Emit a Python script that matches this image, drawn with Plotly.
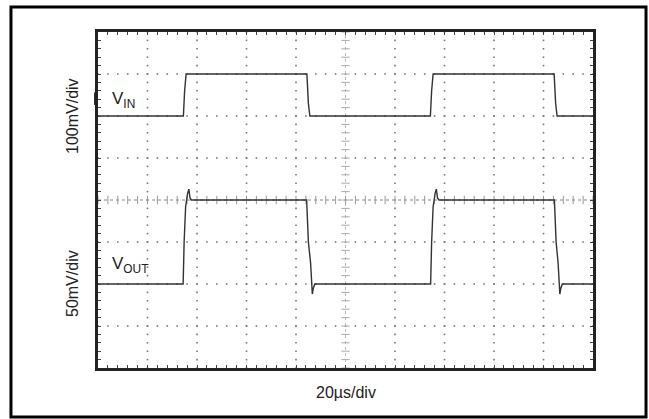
import numpy as np
import plotly.graph_objects as go

# Scope settings
TIME_PER_DIV = 20.0      # µs/div
VIN_PER_DIV = 100.0      # mV/div
VOUT_PER_DIV = 50.0      # mV/div
N_XDIV, N_YDIV = 10, 8
VIN_OFFSET_DIV = 6.0     # channel ground positions (divisions from bottom)
VOUT_OFFSET_DIV = 2.0

# Input step (time in µs, amplitude in mV)
vin_t = [0, 34.5, 35.0, 35.6, 84.4, 85.0, 85.6, 134.3, 134.8, 135.4, 184.3, 184.9, 185.5, 200]
vin_mv = [0, 0, 60, 100, 100, 30, 0, 0, 60, 100, 100, 30, 0, 0]

# Output response (time in µs, amplitude in mV)
vout_t = [0, 34.4, 34.8, 35.4, 36.2, 36.7, 37.2, 37.8, 60, 84.3, 85.0, 85.9, 86.6, 87.0, 87.6, 110,
          134.4, 134.8, 135.4, 136.2, 136.7, 137.2, 137.8, 160, 184.4, 185.1, 185.9, 186.6, 187.0, 187.6, 200]
vout_mv = [0, 0, 50, 92, 108, 113, 102, 100, 100, 100, 50, 25, -12, -5, 0, 0,
           0, 50, 92, 108, 113, 102, 100, 100, 100, 50, 25, -12, -5, 0, 0]

x_max = N_XDIV * TIME_PER_DIV
vin_y = [VIN_OFFSET_DIV + v / VIN_PER_DIV for v in vin_mv]
vout_y = [VOUT_OFFSET_DIV + v / VOUT_PER_DIV for v in vout_mv]

fig = go.Figure()

# Dotted graticule: one dot every 1/5 division along each major line
gx, gy = [], []
for i in range(1, N_XDIV):
    if i == N_XDIV // 2:
        continue
    for k in np.arange(0, N_YDIV + 1e-9, 0.2):
        gx.append(i * TIME_PER_DIV)
        gy.append(k)
for j in range(1, N_YDIV):
    if j == N_YDIV // 2:
        continue
    for k in np.arange(0, x_max + 1e-9, TIME_PER_DIV / 5):
        gx.append(k)
        gy.append(j)
fig.add_trace(go.Scatter(x=gx, y=gy, mode="markers", hoverinfo="skip",
                         marker=dict(symbol="square", size=1.6, color="#777", line=dict(width=0))))

# Centre crosshair with 1/5-division tick marks
xc, yc = x_max / 2, N_YDIV / 2
fig.add_trace(go.Scatter(x=[0, x_max], y=[yc, yc], mode="lines", hoverinfo="skip",
                         line=dict(color="#888", width=1, dash="dot")))
fig.add_trace(go.Scatter(x=[xc, xc], y=[0, N_YDIV], mode="lines", hoverinfo="skip",
                         line=dict(color="#bbb", width=1, dash="dot")))
hx = np.arange(0, x_max + 1e-9, TIME_PER_DIV / 5)
fig.add_trace(go.Scatter(x=hx, y=[yc] * len(hx), mode="markers", hoverinfo="skip",
                         marker=dict(symbol="line-ns", size=6, line=dict(width=1, color="#999"))))
vy = np.arange(0, N_YDIV + 1e-9, 0.2)
fig.add_trace(go.Scatter(x=[xc] * len(vy), y=vy, mode="markers", hoverinfo="skip",
                         marker=dict(symbol="line-ew", size=6, line=dict(width=1, color="#aaa"))))

# Waveforms
fig.add_trace(go.Scatter(x=vin_t, y=vin_y, mode="lines", name="VIN",
                         line=dict(color="#333", width=1.4)))
fig.add_trace(go.Scatter(x=vout_t, y=vout_y, mode="lines", name="VOUT",
                         line=dict(color="#333", width=1.4)))

FONT = "Liberation Sans, Arial, sans-serif"
axis_common = dict(showgrid=False, zeroline=False, showticklabels=False,
                   showline=True, linewidth=3, linecolor="#222", mirror="allticks",
                   ticks="inside", ticklen=3, tickwidth=1, tickcolor="#444")

fig.update_xaxes(range=[0, x_max], dtick=TIME_PER_DIV, tick0=0,
                 minor=dict(dtick=TIME_PER_DIV / 5, ticks="inside", ticklen=3,
                            tickwidth=1, tickcolor="#444"),
                 **axis_common)
fig.update_yaxes(range=[0, N_YDIV], dtick=1, tick0=0,
                 minor=dict(dtick=0.2, ticks="inside", ticklen=3,
                            tickwidth=1, tickcolor="#444"),
                 **axis_common)

annotations = [
    dict(text="V<sub>IN</sub>", x=4.8, y=6.38, xref="x", yref="y",
         xanchor="left", yanchor="middle", showarrow=False,
         font=dict(size=17, family=FONT, color="#222")),
    dict(text="V<sub>OUT</sub>", x=4.8, y=2.45, xref="x", yref="y",
         xanchor="left", yanchor="middle", showarrow=False,
         font=dict(size=17, family=FONT, color="#222")),
    dict(text="100mV/div", x=-0.0525, y=6.0, xref="paper", yref="y",
         textangle=-90, showarrow=False, xanchor="center", yanchor="middle",
         font=dict(size=16, family=FONT, color="#222")),
    dict(text="50mV/div", x=-0.0525, y=2.0, xref="paper", yref="y",
         textangle=-90, showarrow=False, xanchor="center", yanchor="middle",
         font=dict(size=16, family=FONT, color="#222")),
    dict(text="20µs/div", x=xc, y=-0.0744, xref="x", yref="paper",
         showarrow=False, xanchor="center", yanchor="middle",
         font=dict(size=16, family=FONT, color="#222")),
]

shapes = [
    # outer frame around the whole figure
    dict(type="rect", xref="paper", yref="paper",
         x0=-0.1758, x1=1.1071, y0=-0.1458, y1=1.0744,
         line=dict(color="#000", width=3)),
    # channel reference marker on the left edge
    dict(type="rect", xref="paper", yref="paper",
         x0=-0.008, x1=0.0, y0=0.783, y1=0.82,
         fillcolor="#222", line=dict(width=0)),
]

fig.update_layout(
    width=649, height=419,
    margin=dict(l=98, r=56, t=32, b=51),
    paper_bgcolor="white", plot_bgcolor="white",
    showlegend=False,
    annotations=annotations,
    shapes=shapes,
)

fig.write_html("out.html")
